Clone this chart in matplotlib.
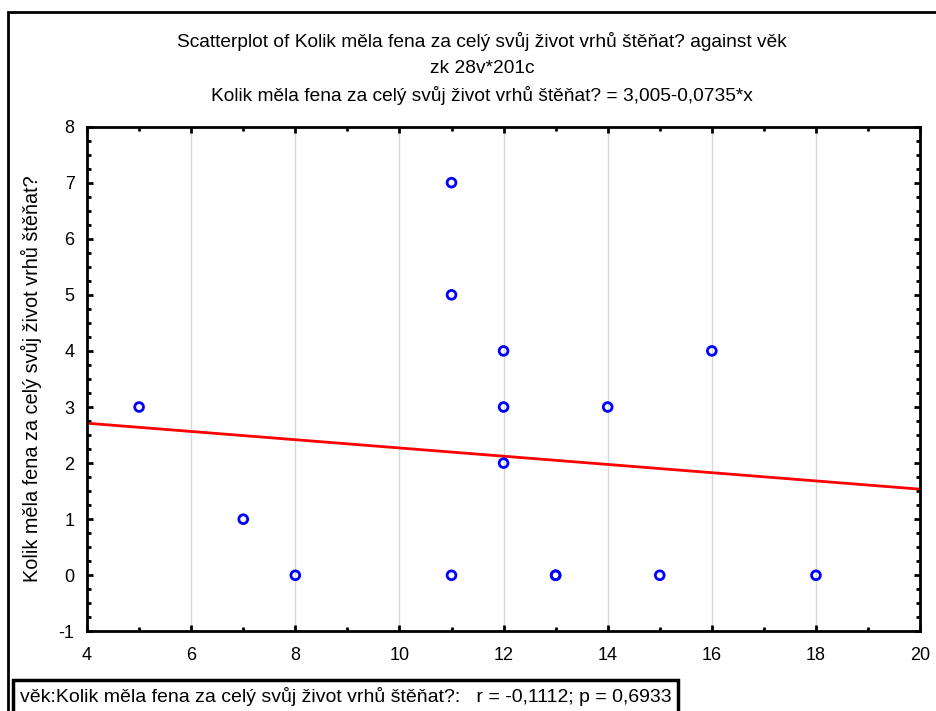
import numpy as np
import matplotlib
matplotlib.use("Agg")
import matplotlib.pyplot as plt
from matplotlib.ticker import MultipleLocator
from matplotlib.patches import Rectangle

# data (vek vs. vrhy)
vek = [5, 7, 8, 11, 11, 11, 12, 12, 12, 13, 13, 14, 15, 16, 18]
vrhy = [3, 1, 0, 7, 5, 0, 4, 3, 2, 0, 0, 3, 0, 4, 0]
intercept = 3.005
slope = -0.0735

title_lines = ["Scatterplot of Kolik měla fena za celý svůj život vrhů štěňat? against věk",
               "zk 28v*201c",
               "Kolik měla fena za celý svůj život vrhů štěňat? = 3,005-0,0735*x"]
ylabel = "Kolik měla fena za celý svůj život vrhů štěňat?"
footer = "věk:Kolik měla fena za celý svůj život vrhů štěňat?:   r = -0,1112; p = 0,6933"

plt.rcParams['font.family'] = ["Liberation Sans", "DejaVu Sans"]
plt.rcParams['axes.unicode_minus'] = False

fig = plt.figure(figsize=(9.36, 7.11), dpi=100)
ax = fig.add_axes([0.093, 0.112, 0.890, 0.710])

# regression line over the full x range
xl = np.array([4, 20])
ax.plot(xl, intercept + slope * xl, color="red", lw=2, zorder=2)
ax.scatter(vek, vrhy, s=40, facecolors="none", edgecolors="blue", linewidths=2, zorder=3)

ax.set_xlim(4, 20)
ax.set_ylim(-1, 8)
ax.xaxis.set_major_locator(MultipleLocator(2))
ax.xaxis.set_minor_locator(MultipleLocator(1))
ax.yaxis.set_major_locator(MultipleLocator(1))
ax.yaxis.set_minor_locator(MultipleLocator(0.25))
ax.tick_params(which="both", direction="in", top=True, right=True, width=2, labelsize=13)
ax.tick_params(which="major", length=4)
ax.tick_params(which="minor", length=3)
ax.tick_params(axis="x", which="major", pad=11)
ax.tick_params(axis="y", which="major", pad=9)
ax.xaxis.grid(True, which="major", color="#d8d8d8", lw=1)
ax.set_axisbelow(True)
for s in ax.spines.values():
    s.set_linewidth(2)
ax.set_ylabel(ylabel, fontsize=14.3, labelpad=12)

ty = [0.942, 0.903, 0.865]
for t, y in zip(title_lines, ty):
    fig.text(0.515, y, t, ha="center", va="center", fontsize=13.8)

fig.text(0.0214, 0.020, footer, ha="left", va="center", fontsize=14,
         bbox=dict(boxstyle="square,pad=0.35", fc="white", ec="black", lw=2.5))

# outer frame
fig.patches.append(Rectangle((0.009, -0.02), 1.0, 1.003, transform=fig.transFigure,
                             fill=False, ec="black", lw=2, clip_on=False))

fig.savefig("out.png", dpi=100)
